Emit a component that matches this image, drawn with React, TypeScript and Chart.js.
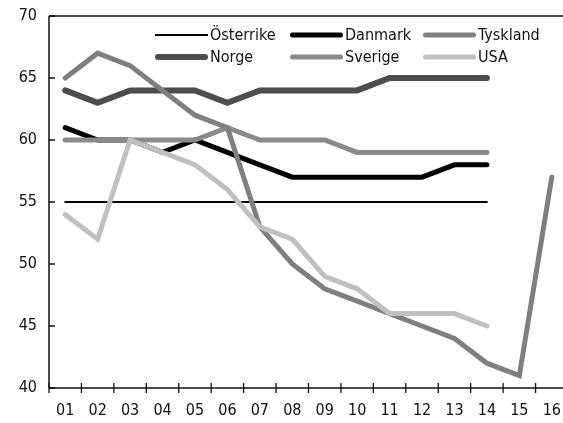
import React, { useEffect, useRef } from "react";
import { Chart, registerables } from "chart.js";

Chart.register(...registerables);

const categories = ["01", "02", "03", "04", "05", "06", "07", "08", "09", "10", "11", "12", "13", "14", "15", "16"];

const osterrike = [55, 55, 55, 55, 55, 55, 55, 55, 55, 55, 55, 55, 55, 55];
const danmark = [61, 60, 60, 59, 60, 59, 58, 57, 57, 57, 57, 57, 58, 58];
const tyskland = [65, 67, 66, 64, 62, 61, 53, 50, 48, 47, 46, 45, 44, 42, 41, 57];
const norge = [64, 63, 64, 64, 64, 63, 64, 64, 64, 64, 65, 65, 65, 65];
const sverige = [60, 60, 60, 60, 60, 61, 60, 60, 60, 59, 59, 59, 59, 59];
const usa = [54, 52, 60, 59, 58, 56, 53, 52, 49, 48, 46, 46, 46, 45];

const yMin = 40;
const yMax = 70;
const yStep = 5;

const FONT = '"DejaVu Sans Condensed", "Liberation Sans Narrow", "Liberation Sans", sans-serif';

const framePlugin = {
  id: "frame",
  afterDraw(chart: any) {
    const { ctx, chartArea } = chart;
    const xs = chart.scales.x;
    const ys = chart.scales.y;
    ctx.save();
    ctx.strokeStyle = "#111";
    ctx.lineWidth = 1.5;
    ctx.lineCap = "butt";
    ctx.beginPath();
    ctx.moveTo(chartArea.left, chartArea.top);
    ctx.lineTo(chartArea.right, chartArea.top);
    ctx.moveTo(chartArea.left, chartArea.top);
    ctx.lineTo(chartArea.left, chartArea.bottom);
    ctx.moveTo(chartArea.left, chartArea.bottom);
    ctx.lineTo(chartArea.right, chartArea.bottom);
    ctx.stroke();
    ctx.lineWidth = 1.3;
    ctx.beginPath();
    ys.ticks.forEach((t: any) => {
      const y = ys.getPixelForValue(t.value);
      ctx.moveTo(chartArea.left, y);
      ctx.lineTo(chartArea.left + 6, y);
    });
    for (let i = 0; i <= categories.length; i++) {
      const x = xs.getPixelForValue(i - 0.5);
      ctx.moveTo(x, chartArea.bottom - 5);
      ctx.lineTo(x, chartArea.bottom + 5);
    }
    ctx.stroke();
    ctx.restore();
  },
};

const legendPlugin = {
  id: "innerLegend",
  afterDraw(chart: any, _args: any, opts: any) {
    const { ctx } = chart;
    const cols: number[] = opts.cols;
    const rows: number[] = opts.rows;
    const len: number = opts.lineLength;
    ctx.save();
    ctx.font = "16px " + FONT;
    ctx.textBaseline = "middle";
    ctx.textAlign = "left";
    chart.data.datasets.forEach((ds: any, i: number) => {
      const cx = cols[i % cols.length];
      const cy = rows[Math.floor(i / cols.length)];
      const w = ds.borderWidth;
      ctx.strokeStyle = ds.borderColor;
      ctx.lineWidth = w;
      ctx.lineCap = w > 3 ? "round" : "butt";
      ctx.beginPath();
      const inset = w > 3 ? w / 2 : 0;
      ctx.moveTo(cx + inset, cy);
      ctx.lineTo(cx + len - inset, cy);
      ctx.stroke();
      ctx.fillStyle = "#111";
      ctx.fillText(ds.label, cx + len + 2, cy + 1);
    });
    ctx.restore();
  },
};

export default function App() {
  const ref = useRef<HTMLCanvasElement | null>(null);

  useEffect(() => {
    document.body.style.margin = "0";
    if (!ref.current) return;
    Chart.defaults.font.family = FONT;
    const mk = (label: string, data: number[], color: string, width: number, order: number) => ({
      label,
      data,
      borderColor: color,
      backgroundColor: color,
      borderWidth: width,
      pointRadius: 0,
      pointHoverRadius: 0,
      tension: 0,
      fill: false,
      borderCapStyle: "round" as const,
      borderJoinStyle: "miter" as const,
      order,
    });
    const chart = new Chart(ref.current, {
      type: "line",
      data: {
        labels: categories,
        datasets: [
          mk("Österrike", osterrike, "#000000", 2, 5),
          mk("Danmark", danmark, "#000000", 5, 4),
          mk("Tyskland", tyskland, "#7f7f7f", 5, 1),
          mk("Norge", norge, "#4d4d4d", 6, 3),
          mk("Sverige", sverige, "#8a8a8a", 5, 2),
          mk("USA", usa, "#c0c0c0", 5, 0),
        ],
      },
      options: {
        responsive: false,
        animation: false,
        devicePixelRatio: 1,
        layout: { padding: { top: 16, right: 4, left: 0, bottom: 0 } },
        plugins: {
          legend: { display: false },
          tooltip: { enabled: false },
          innerLegend: { cols: [155, 290, 423], rows: [35, 57], lineLength: 53 },
        } as any,
        scales: {
          x: {
            offset: true,
            grid: { display: false, drawTicks: false },
            border: { display: false },
            ticks: { color: "#111", font: { size: 16 }, padding: 13, maxRotation: 0 },
            afterFit: (s: any) => {
              s.height = 35;
              s.paddingLeft = 0;
              s.paddingRight = 0;
            },
          },
          y: {
            min: yMin,
            max: yMax,
            grid: { display: false, drawTicks: false },
            border: { display: false },
            ticks: { stepSize: yStep, color: "#111", font: { size: 16 }, padding: 12 },
            afterFit: (s: any) => {
              s.width = 49;
              s.paddingTop = 0;
              s.paddingBottom = 0;
            },
          },
        },
      },
      plugins: [framePlugin, legendPlugin],
    });
    return () => chart.destroy();
  }, []);

  return (
    <div style={{ position: "absolute", left: 0, top: 0, width: 563, height: 423, overflow: "hidden", background: "#fff" }}>
      <canvas ref={ref} width={572} height={423} style={{ display: "block" }} />
    </div>
  );
}
